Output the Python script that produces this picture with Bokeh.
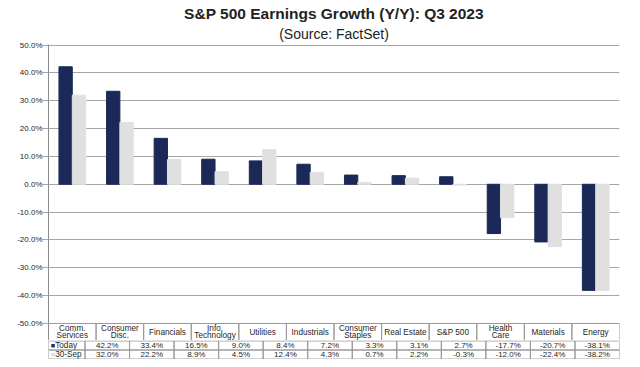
from bokeh.plotting import figure
from bokeh.layouts import column
from bokeh.models import (FactorRange, Range1d, FixedTicker, PrintfTickFormatter,
                          ColumnDataSource, Title)
from bokeh.transform import dodge
from bokeh.core.properties import value
from bokeh.embed import file_html
from bokeh.resources import INLINE

# ---------------- data ----------------
categories = ["Comm. Services", "Consumer Disc.", "Financials", "Info. Technology",
              "Utilities", "Industrials", "Consumer Staples", "Real Estate", "S&P 500",
              "Health Care", "Materials", "Energy"]
header_labels = ["Comm.\nServices", "Consumer\nDisc.", "Financials", "Info.\nTechnology",
                 "Utilities", "Industrials", "Consumer\nStaples", "Real Estate", "S&P 500",
                 "Health\nCare", "Materials", "Energy"]
today = [42.2, 33.4, 16.5, 9.0, 8.4, 7.2, 3.3, 3.1, 2.7, -17.7, -20.7, -38.1]
sep30 = [32.0, 22.2, 8.9, 4.5, 12.4, 4.3, 0.7, 2.2, -0.3, -12.0, -22.4, -38.2]
series_names = ["Today", "30-Sep"]
y_ticks = [-50, -40, -30, -20, -10, 0, 10, 20, 30, 40, 50]
title_text = "S&P 500 Earnings Growth (Y/Y): Q3 2023"
subtitle_text = "(Source: FactSet)"

# ---------------- style ----------------
NAVY = "#1A2957"
LIGHT = "#E0E0E0"
GRID = "#A6A6A6"
BORDER = "#9A9A9A"
TXT = "#262626"
FONT = "Liberation Sans"

W = 624
H_CHART = 340
H_TABLE = 19
TOP = 44           # frame top of chart (px)
LEFT = 48          # frame left of chart (px)
LEG_PX = 39        # width of the legend column of the table (px)
RIGHT = 5
HDR_PX = 17        # header row height (px)
Y_TOP = 50.2
Y_HDR = -50.0
scale = (H_CHART - TOP - HDR_PX) / (Y_TOP - Y_HDR)
HDR_H = HDR_PX / scale
Y_BOT = Y_HDR - HDR_H

n = len(categories)
src = ColumnDataSource(dict(
    cat=categories,
    today=today,
    sep30=sep30,
    hdr=header_labels,
))

# ================= chart (with table header) =================
p = figure(width=W, height=H_CHART,
           x_range=FactorRange(factors=categories, range_padding=0),
           y_range=Range1d(Y_BOT, Y_TOP),
           x_axis_location=None,
           output_backend="svg", toolbar_location=None,
           min_border_left=LEFT, min_border_right=RIGHT, min_border_top=TOP,
           min_border_bottom=0)
p.outline_line_color = None
p.background_fill_color = "white"
p.border_fill_color = "white"

p.add_layout(Title(text=subtitle_text, align="center", text_font=FONT,
                   text_font_size="14px", text_font_style="normal",
                   text_color="#222222", standoff=5), "above")
p.add_layout(Title(text=title_text, align="center", text_font=FONT,
                   text_font_size="15.5px", text_font_style="bold",
                   text_color="#222222", standoff=0), "above")

p.xgrid.grid_line_color = None
p.ygrid.ticker = FixedTicker(ticks=y_ticks)
p.ygrid.grid_line_color = GRID

ax = p.yaxis[0]
ax.ticker = FixedTicker(ticks=y_ticks)
ax.formatter = PrintfTickFormatter(format="%.1f%%")
ax.axis_line_color = "#8C8C8C"
ax.major_tick_line_color = "#A6A6A6"
ax.major_tick_out = 6
ax.major_tick_in = 0
ax.minor_tick_line_color = None
ax.major_label_text_font = FONT
ax.major_label_text_font_size = "8px"
ax.major_label_text_color = TXT
ax.major_label_standoff = 0

p.vbar(x=dodge("cat", -0.14, range=p.x_range), top="today", bottom=0, width=0.28,
       source=src, fill_color=NAVY, line_color=NAVY)
p.vbar(x=dodge("cat", 0.14, range=p.x_range), top="sep30", bottom=0, width=0.28,
       source=src, fill_color=LIGHT, line_color=LIGHT)

hdr_y = Y_HDR - HDR_H / 2
p.rect(x="cat", y=hdr_y, width=1, height=HDR_H, source=src,
       fill_color=None, line_color=BORDER)
p.text(x="cat", y=hdr_y, text="hdr", source=src, text_align="center",
       text_baseline="middle", text_font=value(FONT), text_font_size="8.2px",
       text_color=TXT, text_line_height=0.85)

# ================= table rows (with legend column) =================
col_px = (W - LEFT - RIGHT) / n
leg_w = LEG_PX / col_px
xs = [i + 0.5 for i in range(n)]
row_vals = [today, sep30]
row_cols = [NAVY, LIGHT]

t = figure(width=W, height=H_TABLE,
           x_range=Range1d(-leg_w, n), y_range=Range1d(-0.05, 2.05),
           x_axis_location=None, y_axis_location=None,
           output_backend="svg", toolbar_location=None,
           min_border_left=LEFT - LEG_PX, min_border_right=RIGHT,
           min_border_top=0, min_border_bottom=0)
t.outline_line_color = None
t.xgrid.visible = False
t.ygrid.visible = False
t.background_fill_color = "white"
t.border_fill_color = "white"

for k, (name, vals, colr) in enumerate(zip(series_names, row_vals, row_cols)):
    yc = 2 - k - 0.5
    tsrc = ColumnDataSource(dict(x=xs, y=[yc] * n, txt=["%.1f%%" % v for v in vals]))
    t.rect(x="x", y="y", width=1, height=1, source=tsrc, fill_color=None,
           line_color=BORDER)
    t.text(x="x", y="y", text="txt", source=tsrc, text_align="center",
           text_baseline="middle", text_font=value(FONT), text_font_size="8px",
           text_color=TXT)
    # legend cell
    t.rect(x=[-leg_w / 2], y=[yc], width=leg_w, height=1, fill_color=None,
           line_color=BORDER)
    t.text(x=[-leg_w + 0.05], y=[yc], text=["\u25A0"], text_align="left",
           text_baseline="middle", text_font=value(FONT), text_font_size="7px",
           text_color=colr)
    t.text(x=[-leg_w + 0.15], y=[yc], text=[name], text_align="left",
           text_baseline="middle", text_font=value(FONT), text_font_size="8.2px",
           text_color=TXT)

layout = column(p, t, spacing=0)
open("out.html", "w").write(file_html(layout, INLINE))
